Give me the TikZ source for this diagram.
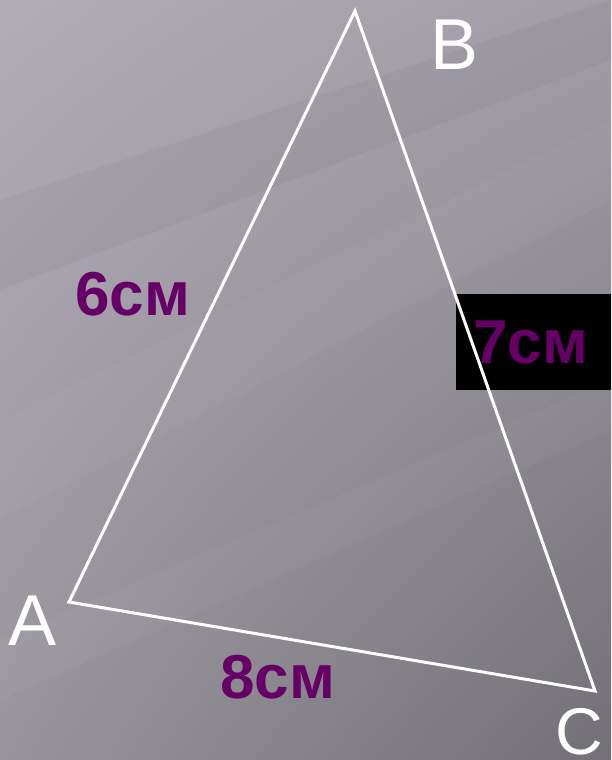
\documentclass[tikz,border=0pt]{standalone}
\usepackage{fontspec}
\usetikzlibrary{shadings}
\setmainfont{Liberation Sans}
\definecolor{lblpurple}{RGB}{102,0,102}
\definecolor{bgtl}{RGB}{178,172,182}
\definecolor{bgtr}{RGB}{162,157,167}
\definecolor{bgbl}{RGB}{152,148,156}
\definecolor{bgbr}{RGB}{114,111,118}
\begin{document}
\begin{tikzpicture}[x=1pt,y=-1pt,
  vlabel/.style={inner sep=0pt,anchor=base west,text=white,font=\fontsize{72}{72}\selectfont},
  slabel/.style={inner sep=0pt,anchor=base west,text=lblpurple,font=\fontsize{62}{62}\selectfont\bfseries},
  edge/.style={draw=white,line width=3pt,line join=miter}]
\useasboundingbox (0,0) rectangle (611,760);
\shade[upper left=bgtl,upper right=bgtr,lower left=bgbl,lower right=bgbr] (0,0) rectangle (611,760);
% faint diagonal streaks
\fill[white,opacity=0.03] (0,420) -- (611,120) -- (611,200) -- (0,520) -- cycle;
\fill[white,opacity=0.03] (0,640) -- (611,380) -- (611,430) -- (0,700) -- cycle;
\fill[black,opacity=0.03] (0,200) -- (611,0) -- (611,60) -- (0,290) -- cycle;
% black box behind 7cm
\fill[black] (456,294) rectangle (611,390);
% triangle
\coordinate (B) at (355,11);
\coordinate (A) at (69,602);
\coordinate (C) at (595,691);
\draw[edge] (A) -- (B) -- (C) -- cycle;
% vertex labels
\node[vlabel] (lB) at (430,70) {B};
\node[vlabel] (lA) at (8,645) {A};
\node[vlabel,font=\fontsize{66}{66}\selectfont] (lC) at (555,754) {C};
% side labels
\node[slabel] (l6) at (75,315) {6см};
\node[slabel] (l7) at (473,363) {7см};
\node[slabel] (l8) at (220,698) {8см};
\end{tikzpicture}
\end{document}
